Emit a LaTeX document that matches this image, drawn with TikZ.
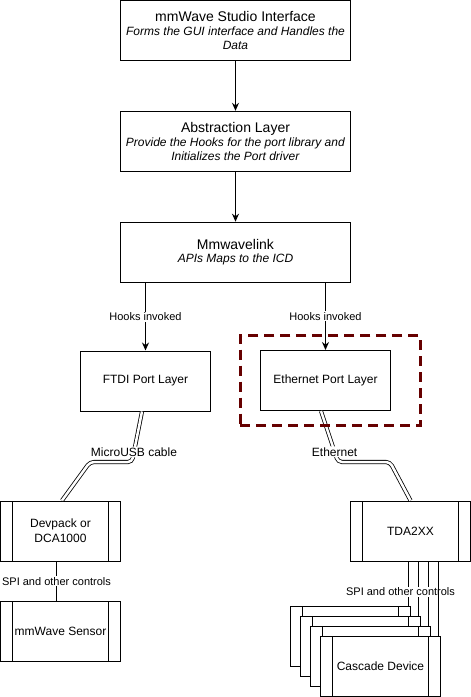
\documentclass[tikz,border=0pt]{standalone}
\usepackage{fontspec}
\setmainfont{Liberation Sans}
\usepackage{xcolor}
\usepackage{tikz}
\usetikzlibrary{arrows.meta,positioning}

\definecolor{selred}{HTML}{660000}

\begin{document}
\begin{tikzpicture}[x=1pt, y=-1pt, line width=1pt, >={Stealth[length=8pt,width=7pt]},
    layer/.style={draw, minimum width=230pt, minimum height=60pt, inner sep=0pt, align=center, font=\fontsize{12}{13.8}\selectfont},
    port/.style={draw, minimum width=130pt, minimum height=60pt, font=\fontsize{12}{14}\selectfont},
    procbox/.style={draw, fill=white, minimum width=120pt, minimum height=60pt, inner sep=0pt, align=center,
        font=\fontsize{12}{15}\selectfont,
        path picture={\draw ([xshift=12pt]path picture bounding box.north west) -- ([xshift=12pt]path picture bounding box.south west)
            ([xshift=-12pt]path picture bounding box.north east) -- ([xshift=-12pt]path picture bounding box.south east);}},
    lbl/.style={fill=white, inner sep=1pt, font=\fontsize{11}{13}\selectfont},
    cable/.style={double, double distance=2.5pt, line width=0.8pt, rounded corners=4pt}]
        \useasboundingbox (0,0) rectangle (471,697);

        \node[layer] (studio) at (235.5,30.5) {{\fontsize{14}{16}\selectfont mmWave Studio Interface}\\\textit{Forms the GUI interface and Handles the}\\\textit{Data}};
        \node[layer] (abstr) at (235.5,141.3) {{\fontsize{14}{16}\selectfont Abstraction Layer}\\\textit{Provide the Hooks for the port library and}\\\textit{Initializes the Port driver}};
        \node[layer] (mmlink) at (235.5,252.2) {{\fontsize{14}{16}\selectfont Mmwavelink}\\\textit{APIs Maps to the ICD}};

        \node[port] (ftdi) at (145.5,381) {FTDI Port Layer};
        \node[port] (eth) at (325.5,380.5) {Ethernet Port Layer};

        \node[procbox] (devpack) at (60.5,531) {Devpack or\\DCA1000};
        \node[procbox] (sensor) at (60.5,631.5) {mmWave Sensor};
        \node[procbox] (tda) at (410.5,531) {TDA2XX};

        \node[procbox] (casc1) at (350.5,636) {};
        \node[procbox] (casc2) at (360.5,646) {};
        \node[procbox] (casc3) at (370.5,656) {};
        \node[procbox] (casc4) at (380.5,666) {Cascade Device};

        \draw[->] (studio) -- (abstr);
        \draw[->] (abstr) -- (mmlink);

        \draw[->] (mmlink.south -| ftdi.north) -- node[lbl]{Hooks invoked} (ftdi.north);
        \draw[->] (mmlink.south -| eth.north) -- node[lbl]{Hooks invoked} (eth.north);

        \draw[cable] ([xshift=-3.5pt]ftdi.south) -- node[lbl, pos=0.8, font=\fontsize{12}{14}\selectfont]{MicroUSB cable} (132,462) -- (90,462) -- ([xshift=1.5pt]devpack.north);
        \draw[cable] ([xshift=-4.5pt]eth.south) -- node[lbl, pos=0.8, font=\fontsize{12}{14}\selectfont]{Ethernet} (338,462) -- (390,462) -- (tda.north);

        \draw ([xshift=-4pt]devpack.south) -- node[lbl]{SPI and other controls} ([xshift=-4pt]sensor.north);

        \foreach \k in {1,2,3}
            \draw ([xshift=-3pt]casc\k.north east |- tda.south) -- ([xshift=-3pt]casc\k.north east);
        \node[lbl] (spi) at (400.5,591.7) {SPI and other controls};
        \draw ([xshift=-3pt]casc4.north east |- tda.south) -- ([xshift=-3pt]casc4.north east);

        \node[draw=selred, line width=3pt, dash pattern=on 10pt off 6pt, minimum width=180pt, minimum height=90pt] (portsel) at (330.25,380.5) {};
    \end{tikzpicture}
\end{document}
